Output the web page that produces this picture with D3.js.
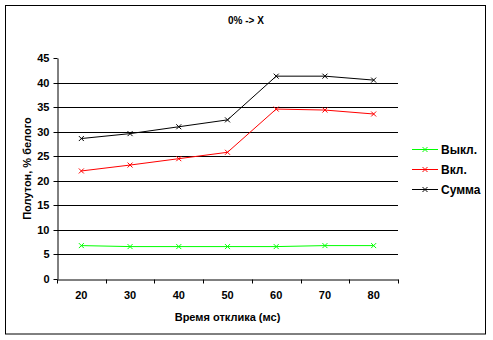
<!DOCTYPE html>
<html>
<head>
<meta charset="utf-8">
<script src="https://cdn.jsdelivr.net/npm/d3@7"></script>
<style>
  html, body { margin: 0; padding: 0; background: #fff; }
  svg { display: block; font-family: "Liberation Sans", Arial, sans-serif; }
</style>
</head>
<body>
<svg id="chart" width="493" height="340"></svg>
<script>
// Response time categories (ms)
const categories = [20, 30, 40, 50, 60, 70, 80];
// Halftone, % of white
const offValues = [6.8, 6.6, 6.6, 6.6, 6.6, 6.8, 6.8];      // Выкл.
const onValues  = [22.0, 23.2, 24.5, 25.8, 34.6, 34.4, 33.6]; // Вкл.
const sumValues = [28.6, 29.6, 31.0, 32.4, 41.3, 41.3, 40.5]; // Сумма
const yTicks = [0, 5, 10, 15, 20, 25, 30, 35, 40, 45];

const series = [
  { name: "Выкл.", values: offValues, color: "#00ff00" },
  { name: "Вкл.",  values: onValues,  color: "#ff0000" },
  { name: "Сумма", values: sumValues, color: "#000000" }
];

const svg = d3.select("#chart");

// Outer chart frame
svg.append("rect")
  .attr("x", 5.5).attr("y", 5.5)
  .attr("width", 480).attr("height", 328.5)
  .attr("fill", "#fff").attr("stroke", "#000").attr("stroke-width", 1);

const plot = { left: 57, right: 398, top: 58, bottom: 279 };

const x = d3.scaleBand().domain(categories).range([plot.left, plot.right]).padding(0);
const y = d3.scaleLinear().domain([0, 45]).range([plot.bottom, plot.top]);

// Horizontal gridlines
svg.append("g")
  .selectAll("line")
  .data(yTicks.filter(t => t > 0 && t < 45))
  .join("line")
  .attr("x1", plot.left).attr("x2", plot.right)
  .attr("y1", d => Math.round(y(d)) + 0.5)
  .attr("y2", d => Math.round(y(d)) + 0.5)
  .attr("stroke", "#000").attr("stroke-width", 1);

// Y axis
const yAxis = svg.append("g")
  .attr("transform", `translate(${plot.left + 0.5},0)`)
  .call(d3.axisLeft(y).tickValues(yTicks).tickSize(4).tickPadding(4).tickSizeOuter(0));
yAxis.select(".domain").attr("stroke", "#000");
yAxis.selectAll(".tick line").attr("stroke", "#000");
yAxis.selectAll(".tick").attr("transform", d => `translate(0,${Math.round(y(d)) + 0.5})`);
yAxis.selectAll("text")
  .attr("font-size", 11).attr("font-weight", "bold").attr("fill", "#000")
  .attr("font-family", "Liberation Sans, Arial, sans-serif");

// X axis: category labels centered, ticks between categories
const xAxis = svg.append("g")
  .attr("transform", `translate(0,${plot.bottom + 0.5})`)
  .call(d3.axisBottom(x).tickSize(0).tickPadding(12));
xAxis.select(".domain").attr("stroke", "#000");
xAxis.selectAll("text")
  .attr("font-size", 11).attr("font-weight", "bold").attr("fill", "#000")
  .attr("font-family", "Liberation Sans, Arial, sans-serif");
const boundaries = categories.map(c => x(c)).concat([x(categories[categories.length - 1]) + x.bandwidth()]);
xAxis.selectAll(".sep")
  .data(boundaries)
  .join("line")
  .attr("class", "sep")
  .attr("x1", d => Math.round(d) + 0.5).attr("x2", d => Math.round(d) + 0.5)
  .attr("y1", 0).attr("y2", 4)
  .attr("stroke", "#000");

// Series lines and x markers
const cx = c => x(c) + x.bandwidth() / 2;
const line = d3.line().x((d, i) => cx(categories[i])).y(d => y(d));

function xMarker(g, px, py, color) {
  const s = 2.5;
  g.append("path")
    .attr("d", `M${px - s},${py - s}L${px + s},${py + s}M${px - s},${py + s}L${px + s},${py - s}`)
    .attr("stroke", color).attr("stroke-width", 1).attr("fill", "none");
}

series.forEach(s => {
  const g = svg.append("g");
  g.append("path")
    .datum(s.values)
    .attr("d", line)
    .attr("fill", "none").attr("stroke", s.color).attr("stroke-width", 1);
  s.values.forEach((v, i) => xMarker(g, cx(categories[i]), y(v), s.color));
});

// Legend
const legend = svg.append("g");
series.forEach((s, i) => {
  const ly = 149.5 + i * 20;
  legend.append("line")
    .attr("x1", 412).attr("x2", 438).attr("y1", ly).attr("y2", ly)
    .attr("stroke", s.color).attr("stroke-width", 1);
  xMarker(legend, 425, ly, s.color);
  legend.append("text")
    .attr("x", 441).attr("y", ly + 4)
    .attr("font-size", 12).attr("font-weight", "bold")
    .text(s.name);
});

// Title
svg.append("text")
  .attr("x", 246).attr("y", 24)
  .attr("text-anchor", "middle")
  .attr("font-size", 10).attr("font-weight", "bold")
  .text("0% -> X");

// Axis titles
svg.append("text")
  .attr("x", (plot.left + plot.right) / 2).attr("y", 321)
  .attr("text-anchor", "middle")
  .attr("font-size", 11).attr("font-weight", "bold")
  .text("Время отклика (мс)");

svg.append("text")
  .attr("transform", `translate(31,${(plot.top + plot.bottom) / 2}) rotate(-90)`)
  .attr("text-anchor", "middle")
  .attr("font-size", 11).attr("font-weight", "bold")
  .text("Полутон, % белого");
</script>
</body>
</html>
